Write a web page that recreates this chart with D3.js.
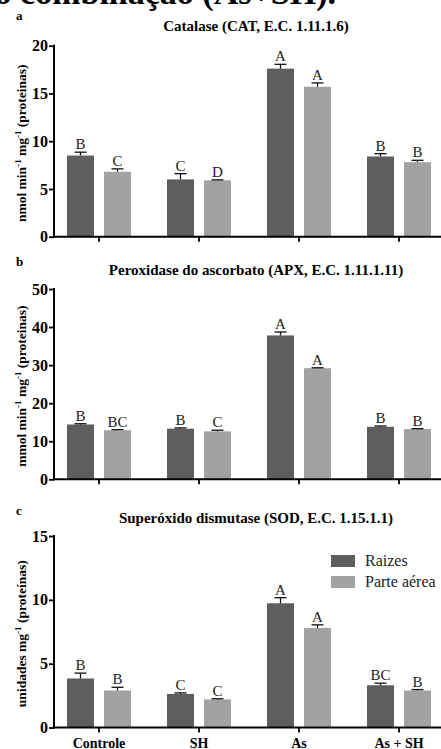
<!DOCTYPE html>
<html>
<head>
<meta charset="utf-8">
<script src="https://cdn.jsdelivr.net/npm/d3@7"></script>
<style>
  html, body { margin: 0; padding: 0; background: #fff; }
  svg text { font-family: "Liberation Serif", "DejaVu Serif", serif !important; }
  .bold { font-weight: bold; }
</style>
</head>
<body>
<svg id="chart" width="441" height="749"></svg>
<script>
// ── Data ──────────────────────────────────────────────────────────
const groups = ['Controle', 'SH', 'As', 'As + SH'];
const series = ['Raizes', 'Parte aérea'];
const seriesColor = ['#5e5e5e', '#a2a2a2'];

// Catalase (CAT)
const catRaizes     = [8.5, 6.0, 17.6, 8.4];
const catRaizesErr  = [0.35, 0.6, 0.45, 0.3];
const catParte      = [6.8, 5.9, 15.7, 7.8];
const catParteErr   = [0.3, 0.05, 0.4, 0.2];
const catLettersR   = ['B', 'C', 'A', 'B'];
const catLettersP   = ['C', 'D', 'A', 'B'];

// Peroxidase do ascorbato (APX)
const apxRaizes     = [14.4, 13.3, 37.8, 13.8];
const apxRaizesErr  = [0.2, 0.2, 0.9, 0.2];
const apxParte      = [12.9, 12.6, 29.2, 13.2];
const apxParteErr   = [0.15, 0.3, 0.1, 0.1];
const apxLettersR   = ['B', 'B', 'A', 'B'];
const apxLettersP   = ['BC', 'C', 'A', 'B'];

// Superóxido dismutase (SOD)
const sodRaizes     = [3.84, 2.63, 9.73, 3.31];
const sodRaizesErr  = [0.42, 0.08, 0.44, 0.16];
const sodParte      = [2.9, 2.2, 7.8, 2.9];
const sodParteErr   = [0.25, 0.05, 0.24, 0.07];
const sodLettersR   = ['B', 'C', 'A', 'BC'];
const sodLettersP   = ['B', 'C', 'A', 'B'];

const catTicks = [0, 5, 10, 15, 20];
const apxTicks = [0, 10, 20, 30, 40, 50];
const sodTicks = [0, 5, 10, 15];

// ── Panel layout ─────────────────────────────────────────────────
const panels = [
  { letter: 'a', title: 'Catalase (CAT, E.C. 1.11.1.6)',
    ylab: ['nmol min', '-1', ' mg', '-1', ' (proteinas)'],
    ticks: catTicks, y0: 236.7, y1: 45.7, letterY: 20, titleY: 31,
    vals: [catRaizes, catParte], errs: [catRaizesErr, catParteErr], lets: [catLettersR, catLettersP] },
  { letter: 'b', title: 'Peroxidase do ascorbato (APX, E.C. 1.11.1.11)',
    ylab: ['mmol min', '-1', ' mg', '-1', ' (proteinas)'],
    ticks: apxTicks, y0: 479.3, y1: 289, letterY: 266, titleY: 275,
    vals: [apxRaizes, apxParte], errs: [apxRaizesErr, apxParteErr], lets: [apxLettersR, apxLettersP] },
  { letter: 'c', title: 'Superóxido dismutase (SOD, E.C. 1.15.1.1)',
    ylab: ['unidades mg', '-1', ' (proteínas)'],
    ticks: sodTicks, y0: 727.5, y1: 536, letterY: 515, titleY: 523,
    vals: [sodRaizes, sodParte], errs: [sodRaizesErr, sodParteErr], lets: [sodLettersR, sodLettersP],
    legend: true, xlabels: true }
];

const svg = d3.select('#chart');
const axisX = 54;

// cut-off heading line at the very top (only its lower part is in frame)
svg.append('text')
  .attr('class', 'bold')
  .attr('x', 336).attr('y', 4)
  .attr('text-anchor', 'end')
  .attr('font-size', 34)
  .text('ão combinação (As+SH).');

const x0 = d3.scaleBand().domain(groups).range([49, 449]).padding(0);
const x1 = d3.scaleBand().domain(series).range([18, 82]).paddingInner(0.27);

panels.forEach(p => {
  const y = d3.scaleLinear().domain([0, d3.max(p.ticks)]).range([p.y0, p.y1]);
  const g = svg.append('g');

  // panel letter + title
  g.append('text').attr('class', 'bold').attr('x', 16).attr('y', p.letterY)
    .attr('font-size', 13).text(p.letter);
  g.append('text').attr('class', 'bold').attr('x', 256).attr('y', p.titleY)
    .attr('text-anchor', 'middle').attr('font-size', 15).text(p.title);

  // bars
  series.forEach((s, si) => {
    const gx = d => x0(d) + x1(s);
    const bw = x1.bandwidth();
    g.selectAll(null).data(groups).join('rect')
      .attr('x', d => gx(d))
      .attr('y', (d, i) => y(p.vals[si][i]))
      .attr('width', bw)
      .attr('height', (d, i) => p.y0 - y(p.vals[si][i]))
      .attr('fill', seriesColor[si]);

    // error bars (upper only)
    const eb = g.selectAll(null).data(groups).join('g');
    eb.append('line')
      .attr('x1', d => gx(d) + bw / 2).attr('x2', d => gx(d) + bw / 2)
      .attr('y1', (d, i) => y(p.vals[si][i]))
      .attr('y2', (d, i) => y(p.vals[si][i] + p.errs[si][i]))
      .attr('stroke', '#111').attr('stroke-width', 1.3);
    eb.append('line')
      .attr('x1', d => gx(d) + bw / 2 - 6).attr('x2', d => gx(d) + bw / 2 + 6)
      .attr('y1', (d, i) => y(p.vals[si][i] + p.errs[si][i]))
      .attr('y2', (d, i) => y(p.vals[si][i] + p.errs[si][i]))
      .attr('stroke', '#111').attr('stroke-width', 1.3);

    // significance letters
    g.selectAll(null).data(groups).join('text')
      .attr('x', d => gx(d) + bw / 2)
      .attr('y', (d, i) => y(p.vals[si][i] + p.errs[si][i]) - 3)
      .attr('text-anchor', 'middle').attr('font-size', 15).attr('fill', '#222')
      .text((d, i) => p.lets[si][i]);
  });

  // y axis
  const yAxis = d3.axisLeft(y).tickValues(p.ticks).tickSize(5).tickPadding(1);
  const ya = g.append('g').attr('transform', `translate(${axisX},0)`).call(yAxis);
  ya.select('.domain').remove();
  ya.selectAll('.tick line').attr('stroke', '#000').attr('stroke-width', 1.8);
  ya.selectAll('.tick text').attr('class', 'bold').attr('font-size', 16).attr('fill', '#000');
  g.append('line').attr('x1', axisX).attr('x2', axisX)
    .attr('y1', p.y1 - 1).attr('y2', p.y0 + 1)
    .attr('stroke', '#000').attr('stroke-width', 2);

  // x axis
  const xAxis = d3.axisBottom(x0).tickSize(5).tickFormat(p.xlabels ? (d => d) : () => '');
  const xa = g.append('g').attr('transform', `translate(0,${p.y0})`).call(xAxis);
  xa.select('.domain').remove();
  xa.selectAll('.tick line').attr('stroke', '#000').attr('stroke-width', 1.8);
  xa.selectAll('.tick text').attr('class', 'bold').attr('font-size', 14)
    .attr('fill', '#000').attr('dy', '0.9em');
  g.append('line').attr('x1', axisX - 1).attr('x2', 441)
    .attr('y1', p.y0).attr('y2', p.y0)
    .attr('stroke', '#000').attr('stroke-width', 2);

  // y axis title with superscripts
  const cy = (p.y0 + p.y1) / 2 + 2;
  const t = g.append('text').attr('class', 'bold').attr('font-size', 13.5)
    .attr('text-anchor', 'middle')
    .attr('transform', `translate(26,${cy}) rotate(-90)`);
  p.ylab.forEach((part, k) => {
    if (part === '-1') {
      t.append('tspan').attr('font-size', 9).attr('dy', -5).text(part);
    } else {
      t.append('tspan').attr('dy', k > 0 && p.ylab[k - 1] === '-1' ? 5 : 0).text(part);
    }
  });

  // legend
  if (p.legend) {
    series.forEach((s, si) => {
      g.append('rect').attr('x', 331).attr('y', 555 + si * 21)
        .attr('width', 24).attr('height', 12).attr('fill', seriesColor[si]);
      g.append('text').attr('x', 365).attr('y', 566 + si * 21)
        .attr('font-size', 16).attr('fill', '#222').text(s);
    });
  }
});
</script>
</body>
</html>
